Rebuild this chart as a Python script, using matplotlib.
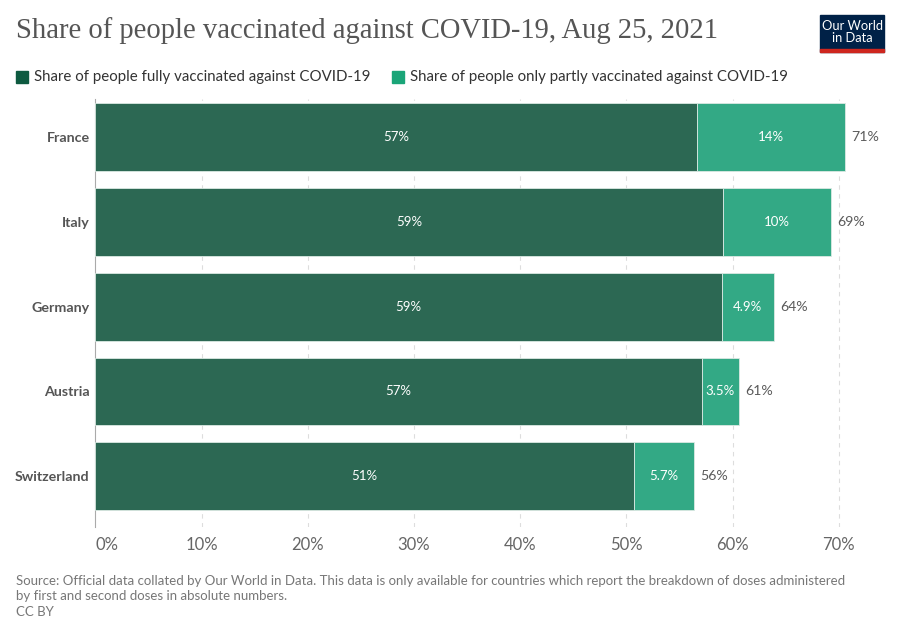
import matplotlib.pyplot as plt
from matplotlib.patches import Rectangle

countries = ["France", "Italy", "Germany", "Austria", "Switzerland"]
fully = [56.7, 59.1, 59.0, 57.1, 50.7]
partly = [13.9, 10.2, 4.9, 3.5, 5.7]
fully_labels = ["57%", "59%", "59%", "57%", "51%"]
partly_labels = ["14%", "10%", "4.9%", "3.5%", "5.7%"]
total_labels = ["71%", "69%", "64%", "61%", "56%"]
xticks = [0, 10, 20, 30, 40, 50, 60, 70]

plt.rcParams['font.family'] = ['Lato', 'DejaVu Sans']

fig = plt.figure(figsize=(9, 6.35), dpi=100)
ax = fig.add_axes([0.1059, 0.170, 0.8496, 0.674])

ypos = list(range(len(countries)))
ax.barh(ypos, fully, height=0.8, color="#2c6853", edgecolor="#dbe9e3", linewidth=0.6, zorder=3)
ax.barh(ypos, partly, left=fully, height=0.8, color="#33a985", edgecolor="#dbe9e3", linewidth=0.6, zorder=3)

for i in ypos:
    ax.text(fully[i] / 2, i, fully_labels[i], color="white", fontsize=9.5,
            ha="center", va="center", zorder=4)
    ax.text(fully[i] + partly[i] / 2, i, partly_labels[i], color="white", fontsize=9.5,
            ha="center", va="center", zorder=4)
    ax.text(fully[i] + partly[i] + 0.6, i, total_labels[i], color="#5b5b5b", fontsize=10.2,
            ha="left", va="center", zorder=4)

ax.set_xlim(0, 72)
ax.set_ylim(4.6, -0.45)
ax.set_yticks(ypos)
ax.set_yticklabels(countries, fontsize=10.3, fontweight="bold", color="#555555")
ax.set_xticks(xticks)
ax.set_xticklabels([f"{t}%" for t in xticks], fontsize=12, color="#666666")
ax.tick_params(axis="y", length=0, pad=4)
ax.tick_params(axis="x", length=0, pad=7)
ax.get_xticklabels()[0].set_ha("left")

for t in xticks[1:]:
    ax.axvline(t, color="#dddddd", linestyle=(0, (4, 4)), linewidth=0.8, zorder=1)

for s in ["top", "right", "bottom"]:
    ax.spines[s].set_visible(False)
ax.spines["left"].set_color("#aaaaaa")
ax.spines["left"].set_linewidth(0.8)

# title
fig.text(16 / 900, 1 - 31 / 635, "Share of people vaccinated against COVID-19, Aug 25, 2021",
         family=["Liberation Serif", "DejaVu Serif"], fontsize=20.6, color="#555555",
         ha="left", va="center")

# legend
leg_items = [(16, "#0e5a40", "Share of people fully vaccinated against COVID-19"),
             (392, "#1aa578", "Share of people only partly vaccinated against COVID-19")]
for x0, col, lab in leg_items:
    fig.patches.append(Rectangle((x0 / 900, 1 - 83 / 635), 12 / 900, 12 / 635,
                                 transform=fig.transFigure, color=col))
    fig.text((x0 + 18) / 900, 1 - 77 / 635, lab, fontsize=10.8, color="#333333",
             ha="left", va="center")

# logo
fig.patches.append(Rectangle((820 / 900, 1 - 52 / 635), 64 / 900, 37 / 635,
                             transform=fig.transFigure, color="#002147"))
fig.patches.append(Rectangle((820 / 900, 1 - 52 / 635), 64 / 900, 3 / 635,
                             transform=fig.transFigure, color="#ce261e"))
fig.text(852 / 900, 1 - 32 / 635, "Our World\nin Data", color="white", fontsize=9.3,
         ha="center", va="center", linespacing=1.0)

# footer
fig.text(16 / 900, 1 - 575 / 635,
         "Source: Official data collated by Our World in Data. This data is only available for countries which report the breakdown of doses administered\n"
         "by first and second doses in absolute numbers.\nCC BY",
         fontsize=9.5, color="#777777", ha="left", va="top", linespacing=1.35)

fig.savefig("out.png", dpi=100)
